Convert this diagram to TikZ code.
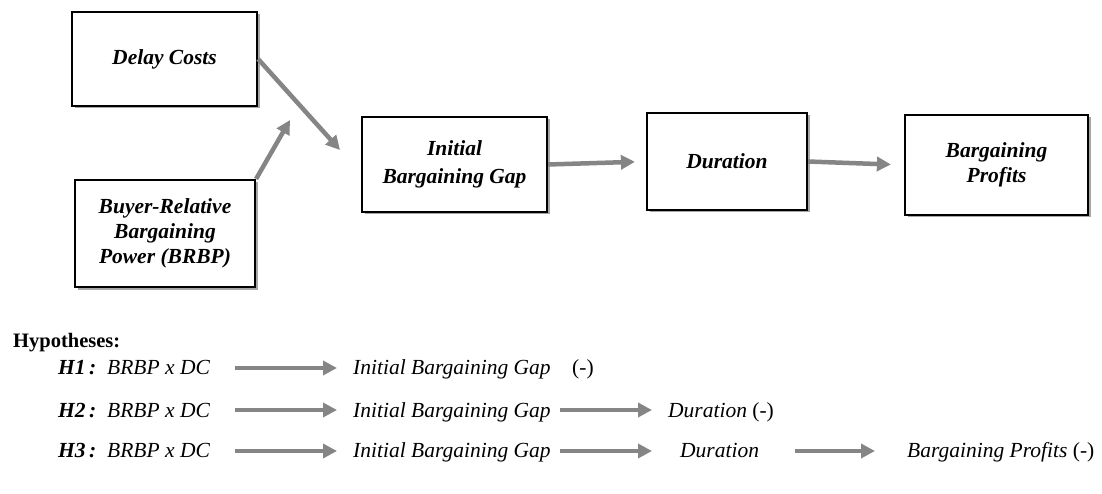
\documentclass[tikz,border=0pt]{standalone}
\usepackage{fontspec}
\setmainfont{Liberation Serif}
\usetikzlibrary{arrows.meta,shadows}
\definecolor{arrgray}{HTML}{858585}
\tikzset{
  box/.style={draw=black, line width=2.2pt, fill=white, align=center, inner sep=2pt,
    font=\fontsize{21.5}{25}\selectfont\bfseries\itshape,
    drop shadow={shadow xshift=2.5pt, shadow yshift=-2.5pt, opacity=0.35, fill=black}},
  arr/.style={draw=arrgray, line width=4.5pt, -{Triangle[length=14pt,width=14pt]}},
  htxt/.style={anchor=base west, inner sep=0pt, font=\fontsize{21.5}{24}\selectfont},
  hlab/.style={htxt, font=\fontsize{21.5}{24}\selectfont\bfseries\itshape},
}
\begin{document}
\begin{tikzpicture}[x=1pt,y=-1pt]
\useasboundingbox[fill=white] (0,0) rectangle (1102,494);
% boxes
\node[box, minimum width=185pt, minimum height=94pt] (dc) at (164.5,59) {Delay Costs};
\node[box, minimum width=180pt, minimum height=107pt] (brbp) at (165,233.5) {Buyer-Relative\\Bargaining\\Power (BRBP)};
\node[box, minimum width=185pt, minimum height=95pt, font=\fontsize{21.5}{28}\selectfont\bfseries\itshape] (ibg) at (454.5,164.5) {Initial\\Bargaining Gap};
\node[box, minimum width=160pt, minimum height=97pt] (dur) at (727,161.5) {Duration};
\node[box, minimum width=183pt, minimum height=100pt] (bp) at (996.5,165) {Bargaining\\Profits};
% connectors
\coordinate (t1) at (340,150);
\coordinate (t2) at (290,120);
\draw[arr] (dc.east) -- (t1);
\draw[arr] (brbp.north east) -- (t2);
\draw[arr, shorten >=11pt] (ibg.east) -- (dur.west);
\draw[arr, shorten >=13pt] (dur.east) -- (bp.west);
% hypotheses
\node[anchor=base west, inner sep=0pt, font=\fontsize{20.5}{24}\selectfont\bfseries] (hyp) at (13,347) {Hypotheses:};
% H1
\node[hlab] (h1) at (58,374) {H1\,:};
\node[htxt] (h1a) at (107,374) {\itshape BRBP x DC};
\node[htxt] (h1b) at (353,374) {\itshape Initial Bargaining Gap};
\node[htxt] (h1c) at (572,374) {(-)};
\coordinate (h1s) at (235,368); \coordinate (h1e) at (337,368);
\draw[arr] (h1s) -- (h1e);
% H2
\node[hlab] (h2) at (58,417) {H2\,:};
\node[htxt] (h2a) at (107,417) {\itshape BRBP x DC};
\node[htxt] (h2b) at (353,417) {\itshape Initial Bargaining Gap};
\node[htxt] (h2c) at (668,417) {\itshape Duration\upshape\ (-)};
\coordinate (h2s) at (235,410); \coordinate (h2e) at (337,410);
\coordinate (h2s2) at (560,410); \coordinate (h2e2) at (652,410);
\draw[arr] (h2s) -- (h2e);
\draw[arr] (h2s2) -- (h2e2);
% H3
\node[hlab] (h3) at (58,457) {H3\,:};
\node[htxt] (h3a) at (107,457) {\itshape BRBP x DC};
\node[htxt] (h3b) at (353,457) {\itshape Initial Bargaining Gap};
\node[htxt] (h3c) at (680,457) {\itshape Duration};
\node[htxt] (h3d) at (907,457) {\itshape Bargaining Profits\upshape\ (-)};
\coordinate (h3s) at (235,451); \coordinate (h3e) at (337,451);
\coordinate (h3s2) at (560,451); \coordinate (h3e2) at (652,451);
\coordinate (h3s3) at (795,451); \coordinate (h3e3) at (875,451);
\draw[arr] (h3s) -- (h3e);
\draw[arr] (h3s2) -- (h3e2);
\draw[arr] (h3s3) -- (h3e3);
\end{tikzpicture}
\end{document}
